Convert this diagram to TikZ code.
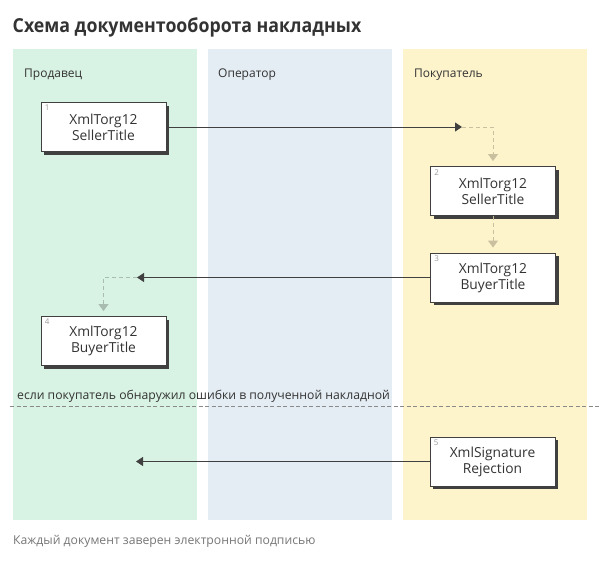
\documentclass[tikz,border=0pt]{standalone}
\usepackage{fontspec}
\setmainfont{Open Sans}
\newfontfamily\titlefont[FakeStretch=0.92]{Open Sans}
\usetikzlibrary{arrows.meta,shadows,positioning}
\definecolor{txt}{HTML}{333333}
\definecolor{lanegreen}{HTML}{D8F2E3}
\definecolor{laneblue}{HTML}{E4ECF4}
\definecolor{laneyellow}{HTML}{FDF4CC}
\definecolor{edgedark}{HTML}{404040}
\definecolor{tan}{HTML}{C9C0A0}
\definecolor{sage}{HTML}{A9BCB0}
\definecolor{numgray}{HTML}{999999}
\definecolor{sepgray}{HTML}{8A8A8A}
\definecolor{footgray}{HTML}{777777}
\tikzset{
  lane/.style={draw=none,inner sep=0pt,anchor=north west,minimum width=184pt,minimum height=471pt},
  lanelabel/.style={anchor=west,text=txt,font=\fontsize{12}{14}\selectfont,inner sep=0pt},
  docbox/.style={draw=edgedark,line width=0.9pt,fill=white,minimum width=125pt,minimum height=49pt,
    align=center,text=txt,font=\fontsize{13.8}{16}\selectfont,inner sep=0pt,
    drop shadow={shadow xshift=3pt,shadow yshift=-3pt,fill=edgedark,opacity=1}},
  docnum/.style={anchor=north west,text=numgray,font=\fontsize{8}{9}\selectfont,inner sep=0pt},
  flow/.style={draw=edgedark,line width=0.9pt,-{Triangle[width=9pt,length=7pt]}},
  localtan/.style={draw=tan,line width=0.9pt,dash pattern=on 4pt off 3pt,-{Triangle[width=10pt,length=7pt,fill=tan,sep=0pt]},shorten >=5pt},
  localsage/.style={draw=sage,line width=0.9pt,dash pattern=on 4pt off 3pt,-{Triangle[width=10pt,length=7pt,fill=sage]},shorten >=5pt},
}
\begin{document}
\begin{tikzpicture}[x=1pt,y=-1pt]
\useasboundingbox (0,0) rectangle (600,562);
\fill[white] (0,0) rectangle (600,562);
% title
\node[anchor=base west,text=txt,font=\titlefont\fontsize{19.3}{22}\bfseries,inner sep=0pt] (title) at (12.5,32.5) {Схема документооборота накладных};
% lanes
\node[lane,fill=lanegreen] (laneS) at (13,49) {};
\node[lane,fill=laneblue] (laneO) at (208,49) {};
\node[lane,fill=laneyellow] (laneB) at (403,49) {};
\node[lanelabel] (labS) at (24,75) {Продавец};
\node[lanelabel] (labO) at (218,75) {Оператор};
\node[lanelabel] (labB) at (414,75) {Покупатель};
% boxes
\node[docbox] (b1) at (103.5,127) {XmlTorg12\\SellerTitle};
\node[docbox] (b2) at (493,191) {XmlTorg12\\SellerTitle};
\node[docbox] (b3) at (493,277.5) {XmlTorg12\\BuyerTitle};
\node[docbox] (b4) at (103.5,341) {XmlTorg12\\BuyerTitle};
\node[docbox] (b5) at (492.5,461.5) {XmlSignature\\Rejection};
\node[docnum] (n1) at ([shift={(4,3)}]b1.north west) {1};
\node[docnum] (n2) at ([shift={(4,3)}]b2.north west) {2};
\node[docnum] (n3) at ([shift={(4,3)}]b3.north west) {3};
\node[docnum] (n4) at ([shift={(4,3)}]b4.north west) {4};
\node[docnum] (n5) at ([shift={(4,3)}]b5.north west) {5};
% connector points
\coordinate (p1) at (462,127);
\coordinate (p3) at (137,277.5);
\coordinate (p5) at (136,461.5);
% connectors
\draw[flow] (b1.east) -- (p1);
\draw[localtan] (p1) -| (b2.north);
\draw[localtan] (b2.south) -- (b3.north);
\draw[flow] (b3.west) -- (p3);
\draw[localsage] (p3) -| (b4.north);
\draw[flow] (b5.west) -- (p5);
% separator
\coordinate (s1) at (10,406);
\coordinate (s2) at (600,406);
\draw[sepgray,line width=0.8pt,dash pattern=on 4pt off 2.5pt] (s1) -- (s2);
\node[anchor=west,text=txt,font=\fontsize{12.2}{14}\selectfont,inner sep=0pt] (sep) at (17,396) {если покупатель обнаружил ошибки в полученной накладной};
% footer
\node[anchor=west,text=footgray,font=\fontsize{12.2}{14}\selectfont,inner sep=0pt] (foot) at (13,541) {Каждый документ заверен электронной подписью};
\end{tikzpicture}
\end{document}
